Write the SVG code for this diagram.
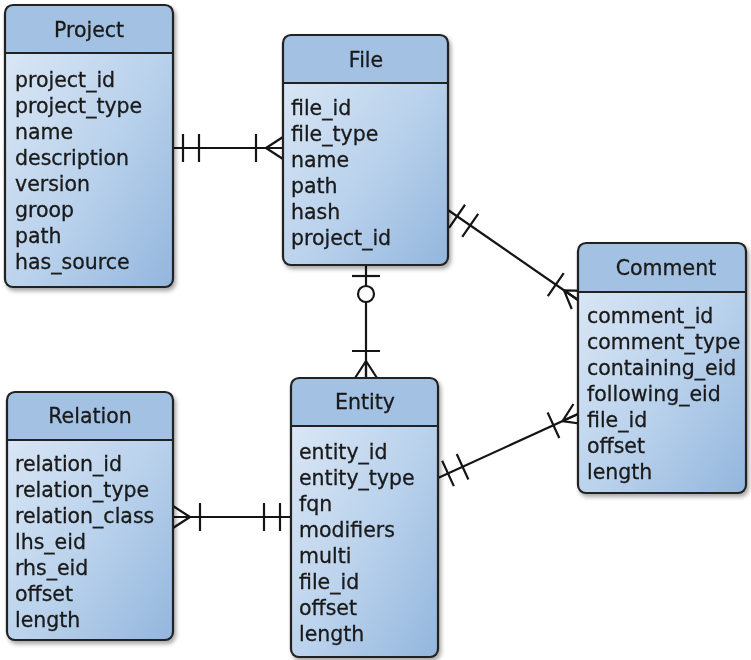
<svg xmlns="http://www.w3.org/2000/svg" width="751" height="660" viewBox="0 0 751 660">
  <style>
    .body { fill: url(#bodyFill); }
    .head { fill: #a3c1e3; }
    .frame { fill: none; stroke: #222; stroke-width: 2.2; }
    .sep { stroke: #222; stroke-width: 2.2; }
    .title, .attr { font-family: "DejaVu Sans", Verdana, sans-serif; font-size: 20.5px; fill: #1a1a1a; stroke: #1a1a1a; stroke-width: 0.3px; }
    .title { text-anchor: middle; }
    .link { fill: none; stroke: #151515; stroke-width: 2.2; }
    .mk { fill: none; stroke: #151515; stroke-width: 2.2; }
  </style>
  <defs>
    <linearGradient id="bodyFill" x1="0" y1="0" x2="1" y2="1">
      <stop offset="0" stop-color="#dfeaf6"/>
      <stop offset="0.55" stop-color="#bad2ec"/>
      <stop offset="1" stop-color="#93b6dd"/>
    </linearGradient>
    <filter id="shadow" x="-10%" y="-10%" width="125%" height="125%">
      <feDropShadow dx="2" dy="3" stdDeviation="2" flood-color="#000" flood-opacity="0.35"/>
    </filter>
    <!-- exactly one: two bars -->
    <marker id="one" markerUnits="userSpaceOnUse" orient="auto-start-reverse" overflow="visible" markerWidth="1" markerHeight="1" refX="0" refY="0">
      <path class="mk" d="M-11,-14V14M-27,-14V14"/>
    </marker>
    <!-- zero or one: bar and circle -->
    <marker id="zeroOne" markerUnits="userSpaceOnUse" orient="auto-start-reverse" overflow="visible" markerWidth="1" markerHeight="1" refX="0" refY="0">
      <path class="mk" d="M-11,-14V14"/>
      <circle class="mk" cx="-29" cy="0" r="8" style="fill:#fff"/>
    </marker>
    <!-- one or many: bar and crow's foot -->
    <marker id="oneMany" markerUnits="userSpaceOnUse" orient="auto-start-reverse" overflow="visible" markerWidth="1" markerHeight="1" refX="0" refY="0">
      <path class="mk" d="M-27,-14V14M-17,0L0,-11M-17,0L0,11M-17,0H0"/>
    </marker>
  </defs>

  <rect width="751" height="660" fill="#fff"/>

  <!-- relationships -->
  <g id="connectors">
    <path class="link" d="M172,148H283" marker-start="url(#one)" marker-end="url(#oneMany)"/>
    <path class="link" d="M448,210L578,300" marker-start="url(#one)" marker-end="url(#oneMany)"/>
    <path class="link" d="M366,265V378" marker-start="url(#zeroOne)" marker-end="url(#oneMany)"/>
    <path class="link" d="M173,517H291" marker-start="url(#oneMany)" marker-end="url(#one)"/>
    <path class="link" d="M438,478L578,414" marker-start="url(#one)" marker-end="url(#oneMany)"/>
  </g>

  <g id="project" filter="url(#shadow)">
    <rect class="body" x="5" y="5" width="168" height="282" rx="8"/>
    <path class="head" d="M5,53V13Q5,5 13,5H165Q173,5 173,13V53Z"/>
    <line class="sep" x1="5" y1="53" x2="173" y2="53"/>
    <rect class="frame" x="5" y="5" width="168" height="282" rx="8"/>
    <text class="title" x="89" y="37">Project</text>
    <text class="attr" x="15" y="87">project_id</text>
    <text class="attr" x="15" y="113">project_type</text>
    <text class="attr" x="15" y="139">name</text>
    <text class="attr" x="15" y="165">description</text>
    <text class="attr" x="15" y="191">version</text>
    <text class="attr" x="15" y="217">groop</text>
    <text class="attr" x="15" y="243">path</text>
    <text class="attr" x="15" y="269">has_source</text>
  </g>

  <g id="file" filter="url(#shadow)">
    <rect class="body" x="283" y="35" width="165" height="230" rx="8"/>
    <path class="head" d="M283,83V43Q283,35 291,35H440Q448,35 448,43V83Z"/>
    <line class="sep" x1="283" y1="83" x2="448" y2="83"/>
    <rect class="frame" x="283" y="35" width="165" height="230" rx="8"/>
    <text class="title" x="366" y="67">File</text>
    <text class="attr" x="291" y="115">file_id</text>
    <text class="attr" x="291" y="141">file_type</text>
    <text class="attr" x="291" y="167">name</text>
    <text class="attr" x="291" y="193">path</text>
    <text class="attr" x="291" y="219">hash</text>
    <text class="attr" x="291" y="245">project_id</text>
  </g>

  <g id="comment" filter="url(#shadow)">
    <rect class="body" x="578" y="243" width="168" height="250" rx="8"/>
    <path class="head" d="M578,292V251Q578,243 586,243H738Q746,243 746,251V292Z"/>
    <line class="sep" x1="578" y1="292" x2="746" y2="292"/>
    <rect class="frame" x="578" y="243" width="168" height="250" rx="8"/>
    <text class="title" x="666" y="275">Comment</text>
    <text class="attr" x="587" y="323">comment_id</text>
    <text class="attr" x="587" y="349">comment_type</text>
    <text class="attr" x="587" y="375">containing_eid</text>
    <text class="attr" x="587" y="401">following_eid</text>
    <text class="attr" x="587" y="427">file_id</text>
    <text class="attr" x="587" y="453">offset</text>
    <text class="attr" x="587" y="479">length</text>
  </g>

  <g id="relation" filter="url(#shadow)">
    <rect class="body" x="7" y="392" width="166" height="248" rx="8"/>
    <path class="head" d="M7,440V400Q7,392 15,392H165Q173,392 173,400V440Z"/>
    <line class="sep" x1="7" y1="440" x2="173" y2="440"/>
    <rect class="frame" x="7" y="392" width="166" height="248" rx="8"/>
    <text class="title" x="90" y="423">Relation</text>
    <text class="attr" x="15" y="471">relation_id</text>
    <text class="attr" x="15" y="497">relation_type</text>
    <text class="attr" x="15" y="523">relation_class</text>
    <text class="attr" x="15" y="549">lhs_eid</text>
    <text class="attr" x="15" y="575">rhs_eid</text>
    <text class="attr" x="15" y="601">offset</text>
    <text class="attr" x="15" y="627">length</text>
  </g>

  <g id="entity" filter="url(#shadow)">
    <rect class="body" x="291" y="378" width="147" height="279" rx="8"/>
    <path class="head" d="M291,426V386Q291,378 299,378H430Q438,378 438,386V426Z"/>
    <line class="sep" x1="291" y1="426" x2="438" y2="426"/>
    <rect class="frame" x="291" y="378" width="147" height="279" rx="8"/>
    <text class="title" x="365" y="409">Entity</text>
    <text class="attr" x="299" y="459">entity_id</text>
    <text class="attr" x="299" y="485">entity_type</text>
    <text class="attr" x="299" y="511">fqn</text>
    <text class="attr" x="299" y="537">modifiers</text>
    <text class="attr" x="299" y="563">multi</text>
    <text class="attr" x="299" y="589">file_id</text>
    <text class="attr" x="299" y="615">offset</text>
    <text class="attr" x="299" y="641">length</text>
  </g>
</svg>
